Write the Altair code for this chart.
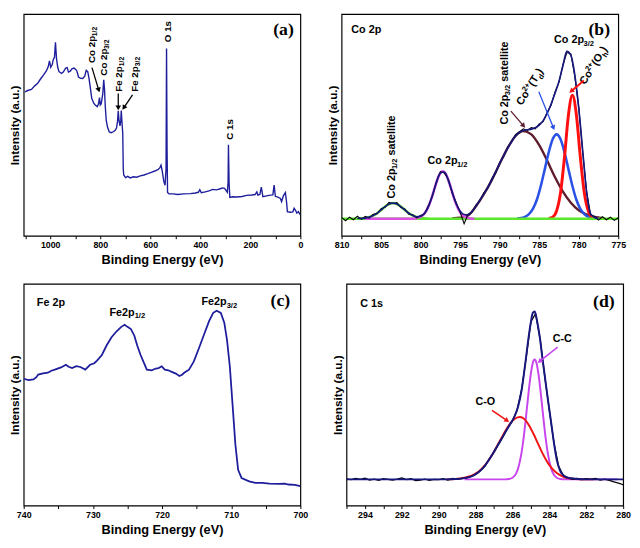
import altair as alt
import pandas as pd

# ---------------- Panel (a): survey spectrum ----------------
a_energy = [1101, 1090, 1075, 1062, 1050, 1038, 1025, 1015, 1008, 1003, 998, 992, 988, 983, 979, 975,
            970, 965, 955, 948, 938, 932, 927, 920, 913, 905, 898, 893, 887, 878, 870, 862, 856, 850,
            845, 840, 834, 826, 820, 812, 807, 803, 800, 796, 790, 786, 783, 780, 776, 771, 764, 756,
            748, 740, 735, 731, 728, 725, 721, 718, 716, 713, 710, 708, 706, 699, 690, 680, 668, 655,
            640, 625, 610, 596, 582, 570, 562, 557, 552, 546, 541, 537, 535, 533, 531, 525, 510, 490,
            466, 440, 420, 408, 402, 396, 380, 365, 350, 335, 320, 311, 303, 298, 292, 289, 287.5, 285,
            282, 270, 255, 233, 215, 195, 181, 174, 170, 162, 156, 150, 135, 120, 110, 105, 100, 90, 80,
            75, 68, 60, 55, 52, 40, 30, 25, 20, 14, 8, 2, 0]
a_intensity = [64.9, 65.5, 66.0, 67.6, 68.8, 70.8, 72.8, 74.5, 76.2, 78.9, 76.0, 77.2, 79.4, 80.5, 87.3, 80.0,
               76.0, 74.0, 73.2, 73.8, 75.6, 75.8, 73.8, 74.2, 75.3, 75.6, 75.0, 74.2, 71.6, 71.0, 70.9, 72.0, 74.6, 74.0,
               71.0, 67.0, 62.0, 59.8, 59.0, 58.2, 59.5, 62.3, 59.0, 59.6, 64.0, 70.3, 66.0, 58.5, 52.0, 49.0, 46.8, 46.5,
               46.9, 47.6, 48.6, 51.5, 56.3, 52.0, 49.5, 51.8, 56.5, 51.0, 46.0, 30.0, 27.4, 26.2, 26.8, 26.1, 26.6, 26.4,
               27.0, 27.4, 28.0, 28.6, 29.2, 29.8, 30.6, 31.8, 29.0, 24.5, 22.8, 30.0, 84.4, 40.0, 19.5, 18.9, 18.9, 18.6,
               18.9, 19.0, 19.3, 19.6, 20.8, 19.4, 19.8, 20.2, 20.9, 20.7, 21.2, 21.6, 21.4, 20.6, 19.6, 24.0, 41.0, 24.0,
               17.3, 17.6, 17.5, 17.7, 18.2, 18.4, 18.6, 19.8, 18.3, 18.6, 21.9, 17.6, 18.0, 18.3, 18.4, 22.8, 17.8, 17.4, 16.8,
               15.4, 18.0, 19.5, 15.0, 10.9, 10.6, 10.8, 12.4, 11.6, 10.2, 10.9, 9.8, 9.4]
a_ticks = [1100, 1000, 900, 800, 700, 600, 500, 400, 300, 200, 100, 0]

# ---------------- Panel (b): Co 2p ----------------
b_energy = [810.0, 809.5, 809.0, 808.5, 808.0, 807.5, 807.0, 806.5, 806.0, 805.5, 805.0, 804.5, 804.0, 803.5,
            803.0, 802.5, 802.0, 801.5, 801.0, 800.5, 800.0, 799.5, 799.0, 798.5, 798.0, 797.5, 797.0, 796.5,
            796.0, 795.5, 795.0, 794.5, 794.0, 793.5, 793.0, 792.5, 792.0, 791.5, 791.0, 790.5, 790.0, 789.5,
            789.0, 788.5, 788.0, 787.5, 787.0, 786.5, 786.0, 785.5, 785.0, 784.5, 784.0, 783.5, 783.0, 782.5,
            782.0, 781.5, 781.0, 780.5, 780.0, 779.5, 779.0, 778.5, 778.0, 777.5, 777.0, 776.5, 776.0, 775.5, 775.0]
b_raw = [0.04, -0.06, 0.05, -0.03, 0.08, -0.02, 0.07, 0.02, 0.14, 0.15,
         0.31, 0.35, 0.50, 0.46, 0.49, 0.34, 0.30, 0.14, 0.12, 0.03,
         0.10, 0.15, 0.41, 0.70, 1.14, 1.44, 1.40, 1.21, 0.78, 0.49,
         0.20, -0.15, 0.14, 0.20, 0.42, 0.55, 0.79, 0.94, 1.22, 1.41,
         1.72, 1.90, 2.19, 2.34, 2.57, 2.66, 2.75, 2.70, 2.79, 2.75,
         2.90, 2.97, 3.25, 3.47, 3.88, 4.17, 4.71, 5.08, 5.04, 4.36,
         3.42, 2.04, 0.84, 0.12, 0.07, -0.04, 0.06, -0.03, 0.05, -0.05, 0.03]
b_env_energy = [808.0, 807.5, 807.0, 806.5, 806.0, 805.5, 805.0, 804.5, 804.0, 803.5,
                803.0, 802.5, 802.0, 801.5, 801.0, 800.5, 800.0, 799.5, 799.0, 798.5,
                798.0, 797.5, 797.0, 796.5, 796.0, 795.5, 795.0, 794.5, 794.0, 793.5,
                793.0, 792.5, 792.0, 791.5, 791.0, 790.5, 790.0, 789.5, 789.0, 788.5,
                788.0, 787.5, 787.0, 786.5, 786.0, 785.5, 785.0, 784.5, 784.0, 783.5,
                783.0, 782.5, 782.0, 781.5, 781.0, 780.5, 780.0, 779.5, 779.0, 778.5, 778.0, 777.5]
b_envelope = [0.01, 0.01, 0.02, 0.05, 0.10, 0.17, 0.27, 0.37, 0.45, 0.48,
              0.45, 0.37, 0.27, 0.17, 0.10, 0.06, 0.08, 0.17, 0.38, 0.72,
              1.11, 1.40, 1.43, 1.18, 0.81, 0.46, 0.23, 0.13, 0.12, 0.22,
              0.39, 0.57, 0.76, 0.96, 1.19, 1.43, 1.69, 1.93, 2.16, 2.36,
              2.53, 2.64, 2.70, 2.72, 2.74, 2.78, 2.86, 3.00, 3.22, 3.50,
              3.84, 4.20, 4.68, 5.12, 5.00, 4.40, 3.38, 2.08, 0.80, 0.15, 0.04, 0.01]
b_base_energy = [810.0, 775.0]
b_base = [0.0, 0.0]
b_sat12_energy = [808.0, 807.5, 807.0, 806.5, 806.0, 805.5, 805.0, 804.5, 804.0, 803.5,
                  803.0, 802.5, 802.0, 801.5, 801.0, 800.5, 800.0, 799.5, 799.0]
b_sat12 = [0.00, 0.01, 0.02, 0.05, 0.10, 0.17, 0.27, 0.37, 0.45, 0.48,
           0.45, 0.37, 0.27, 0.17, 0.10, 0.05, 0.02, 0.01, 0.00]
b_p12_energy = [807.0, 801.7, 801.2, 800.7, 800.2, 799.7, 799.2, 798.7, 798.2, 797.7,
                797.2, 796.7, 796.2, 795.7, 795.2, 794.7, 794.2, 793.7, 793.2]
b_p12 = [0.0, 0.0, 0.0, 0.01, 0.04, 0.11, 0.28, 0.57, 0.96, 1.31,
         1.45, 1.31, 0.96, 0.57, 0.28, 0.11, 0.04, 0.01, 0.0]
b_sat32_energy = [796, 795, 794, 793, 792, 791, 790, 789, 788, 787, 786, 785, 784, 783, 782, 781, 780, 779, 778, 777]
b_sat32 = [0.01, 0.03, 0.10, 0.38, 0.75, 1.18, 1.68, 2.16, 2.53, 2.68, 2.58, 2.25, 1.78, 1.27, 0.83, 0.49, 0.26, 0.13, 0.06, 0.02]
b_td_energy = [787.8, 787.3, 786.8, 786.3, 785.8, 785.3, 784.8, 784.3, 783.8, 783.3, 782.8,
               782.3, 781.8, 781.3, 780.8, 780.3, 779.8, 779.3, 778.8, 778.3, 777.8]
b_td = [0.01, 0.02, 0.06, 0.14, 0.30, 0.58, 1.00, 1.51, 2.03, 2.43, 2.58,
        2.43, 2.03, 1.51, 1.00, 0.58, 0.30, 0.14, 0.06, 0.02, 0.01]
b_oh_energy = [783.8, 783.3, 782.8, 782.3, 781.8, 781.3, 780.8, 780.3, 779.8, 779.3, 778.8, 778.3, 777.8]
b_oh = [0.01, 0.05, 0.24, 0.80, 1.89, 3.18, 3.78, 3.18, 1.89, 0.80, 0.24, 0.05, 0.01]
b_ticks = [810, 807.5, 805, 802.5, 800, 797.5, 795, 792.5, 790, 787.5, 785, 782.5, 780, 777.5, 775]

# ---------------- Panel (c): Fe 2p ----------------
c_energy = [740, 739.3, 738.6, 738.2, 737.9, 737.2, 736.5, 736.0, 735.5, 734.6, 733.9, 733.5, 733.0, 732.4,
            731.8, 731.1, 730.4, 729.8, 729.4, 728.7, 728.0, 727.3, 726.6, 725.9, 725.4, 725.0, 724.5, 724.0,
            723.6, 723.1, 722.6, 722.2, 721.5, 720.9, 720.5, 720.05, 719.6, 719.1, 718.6, 718.0, 717.5, 717.1,
            716.8, 716.1, 715.4, 714.6, 713.9, 713.2, 712.6, 712.1, 711.5, 711.0, 710.6, 710.2, 709.8, 709.4,
            709.0, 708.5, 707.4, 706.5, 705.5, 704.5, 703.1, 702.3, 701.7, 700.8, 700]
c_intensity = [57.2, 56.6, 56.9, 57.8, 59.1, 59.6, 59.9, 60.8, 61.3, 62.3, 63.5, 62.6, 62.0, 62.9,
               62.5, 61.3, 63.5, 64.2, 65.4, 67.9, 72.3, 75.9, 78.5, 80.6, 81.5, 80.6, 79.6, 76.6,
               72.3, 67.9, 64.2, 61.3, 61.0, 61.8, 62.0, 62.8, 61.3, 61.0, 60.3, 59.5, 58.4, 59.0,
               59.9, 61.3, 65.0, 71.5, 77.4, 83.2, 86.9, 87.9, 86.9, 82.5, 74.5, 62.8, 45.3, 27.7,
               16.1, 12.4, 10.9, 10.2, 10.2, 9.9, 9.8, 9.9, 9.5, 9.3, 8.8]
c_ticks = [740, 735, 730, 725, 720, 715, 710, 705, 700]

# ---------------- Panel (d): C 1s ----------------
d_raw_energy = [295.0, 294.75, 294.5, 294.25, 294.0, 293.75, 293.5, 293.25, 293.0, 292.75,
                292.5, 292.25, 292.0, 291.75, 291.5, 291.25, 291.0, 290.75, 290.5, 290.25,
                290.0, 289.75, 289.5, 289.25, 289.0, 288.75, 288.5, 288.25, 288.0, 287.75,
                287.5, 287.25, 287.0, 286.75, 286.5, 286.25, 286.0, 285.75, 285.5, 285.25,
                285.0, 284.75, 284.5, 284.25, 284.0, 283.75, 283.5, 283.25, 283.0, 282.75,
                282.5, 282.25, 282.0, 281.75, 281.5, 281.25, 281.0, 280.75, 280.5, 280.25, 280.0]
d_raw = [0.02, -0.01, 0.03, 0.00, 0.04, -0.02, 0.01, -0.03, 0.02, 0.00,
         -0.02, 0.01, 0.05, -0.01, 0.02, -0.04, -0.02, 0.01, -0.03, 0.00,
         -0.01, 0.02, -0.02, 0.03, 0.00, 0.03, 0.05, 0.10, 0.16, 0.27,
         0.41, 0.66, 0.86, 1.12, 1.36, 1.63, 1.86, 2.20, 2.86, 3.90,
         5.00, 5.25, 4.45, 3.26, 2.18, 1.15, 0.42, 0.13, 0.06, 0.00,
         0.03, -0.01, 0.02, 0.00, 0.03, -0.02, 0.01, -0.03, -0.08, -0.12, -0.17]
d_env_energy = [295, 294, 293, 292, 291, 290, 289.6, 289.1, 288.6, 288.1, 287.6, 287.1, 286.85, 286.6,
                286.35, 286.1, 285.9, 285.7, 285.5, 285.3, 285.1, 285.0, 284.9, 284.8, 284.7, 284.6,
                284.5, 284.4, 284.3, 284.2, 284.1, 284.0, 283.9, 283.8, 283.7, 283.6, 283.5, 283.4,
                283.2, 283.0, 282.6, 282.0, 281.0, 280.0]
d_envelope = [0, 0, 0, 0, 0, 0, 0.0, 0.01, 0.04, 0.13, 0.36, 0.78, 1.03, 1.28,
              1.54, 1.78, 1.98, 2.30, 2.85, 3.70, 4.62, 5.00, 5.28, 5.32, 5.12, 4.80,
              4.42, 3.95, 3.50, 3.05, 2.62, 2.20, 1.78, 1.35, 0.95, 0.62, 0.40, 0.25,
              0.11, 0.05, 0.02, 0, 0, 0]
d_cc_energy = [288.6, 286.4, 286.2, 286.0, 285.8, 285.7, 285.6, 285.5, 285.4, 285.3, 285.2, 285.1, 285.0,
               284.9, 284.8, 284.7, 284.6, 284.5, 284.4, 284.3, 284.2, 284.1, 284.0, 283.9, 283.8,
               283.6, 283.4, 283.2, 280.3]
d_cc = [0, 0, 0.01, 0.05, 0.19, 0.34, 0.57, 0.88, 1.30, 1.81, 2.36, 2.91, 3.37,
        3.69, 3.80, 3.69, 3.37, 2.91, 2.36, 1.81, 1.30, 0.88, 0.57, 0.34, 0.19,
        0.05, 0.01, 0, 0]
d_co_energy = [289.6, 289.1, 288.6, 288.35, 288.1, 287.85, 287.6, 287.35, 287.1, 286.85, 286.6, 286.35,
               286.1, 285.85, 285.6, 285.35, 285.1, 284.85, 284.6, 284.35, 284.1, 283.85, 283.6, 283.35,
               283.1, 282.85, 282.6, 282.1, 281.6]
d_co = [0.0, 0.01, 0.05, 0.09, 0.15, 0.24, 0.38, 0.56, 0.78, 1.04, 1.31, 1.57,
        1.79, 1.93, 1.98, 1.91, 1.71, 1.43, 1.11, 0.80, 0.54, 0.34, 0.20, 0.11,
        0.05, 0.03, 0.01, 0.0, 0.0]
d_ticks = [295, 294, 293, 292, 291, 290, 289, 288, 287, 286, 285, 284, 283, 282, 281, 280]

# ---------------- styling / layout ----------------
SANS = "Liberation Sans"
SERIF = "Liberation Serif"
W, H = 282, 226
NAVY = "#1e1e9c"

AW = {' ': 278, '(': 333, ')': 333, '+': 584, '-': 333, '.': 278, '/': 278, 'C': 722, 'F': 611,
      'O': 778, 'T': 611, 'a': 556, 'c': 556, 'd': 611, 'e': 556, 'h': 611, 'i': 278, 'l': 278,
      'p': 611, 's': 556, 't': 333}


def tw(s, size):
    return sum(AW.get(ch, 556) for ch in s) * size / 1000.0


def make_x(domain, ticks, step):
    def f(field):
        return alt.X(f"{field}:Q", scale=alt.Scale(domain=domain, nice=False, zero=False),
                     axis=alt.Axis(title="Binding Energy (eV)", values=ticks, format="d",
                                   labelExpr=f"datum.value % {step} == 0 ? datum.label : ''",
                                   labelOverlap=False, labelFlush=False, grid=False, domain=False))
    return f


def make_y(domain):
    def f(field):
        return alt.Y(f"{field}:Q", scale=alt.Scale(domain=domain, nice=False, zero=False),
                     axis=alt.Axis(title="Intensity (a.u.)", labels=False, ticks=False,
                                   domain=False, grid=False))
    return f


def line(e, i, color, width, X, Y, interp="linear"):
    df = pd.DataFrame({"e": e, "i": i})
    return alt.Chart(df).mark_line(color=color, strokeWidth=width, interpolate=interp,
                                   clip=True).encode(x=X("e"), y=Y("i"))


def rich(parts, e, i, X, Y, size, angle=0, baseline="middle", color="black", align="left"):
    out = []
    off = 0.0
    if align == "center":
        total = sum(tw(t, size if k == "n" else size * 0.7) for t, k in parts)
        off = -total / 2
    for txt, kind in parts:
        fs = size if kind == "n" else round(size * 0.7, 1)
        dy = 0 if kind == "n" else (size * 0.32 if kind == "sub" else -size * 0.38)
        lead = len(txt) - len(txt.lstrip(" "))
        off += tw(" " * lead, fs)
        t = txt.lstrip(" ")
        df = pd.DataFrame({"e": [e], "i": [i], "t": [t]})
        out.append(alt.Chart(df).mark_text(align="left", baseline=baseline, angle=angle, dx=off, dy=dy,
                                           fontSize=fs, fontWeight="bold", font=SANS, color=color)
                   .encode(x=X("e"), y=Y("i"), text="t:N"))
        off += tw(t, fs)
    return out


def tag(txt, e, i, X, Y):
    df = pd.DataFrame({"e": [e], "i": [i], "t": [txt]})
    return alt.Chart(df).mark_text(align="center", baseline="middle", fontSize=18, fontWeight="bold",
                                   font=SERIF, color="black").encode(x=X("e"), y=Y("i"), text="t:N")


def arrow(e1, i1, e2, i2, ang, color, X, Y, width=1.3, size=32):
    df = pd.DataFrame({"e": [e1], "i": [i1], "e2": [e2], "i2": [i2]})
    r = alt.Chart(df).mark_rule(color=color, strokeWidth=width).encode(
        x=X("e"), y=Y("i"), x2="e2:Q", y2="i2:Q")
    h = alt.Chart(pd.DataFrame({"e": [e2], "i": [i2]})).mark_point(
        shape="triangle-up", filled=True, size=size, angle=ang, color=color, opacity=1, strokeWidth=0
    ).encode(x=X("e"), y=Y("i"))
    return [r, h]


# ---- panel a ----
Xa = make_x([1106, 0], a_ticks, 200)
Ya = make_y([0, 100])
la = [line(a_energy, a_intensity, NAVY, 1.4, Xa, Ya)]
la += rich([("Co 2p", "n"), ("1/2", "sub")], 833, 77.9, Xa, Ya, 10, angle=270)
la += rich([("Co 2p", "n"), ("3/2", "sub")], 783.6, 72.2, Xa, Ya, 10, angle=270)
la += rich([("Fe 2p", "n"), ("1/2", "sub")], 725.3, 64.9, Xa, Ya, 10, angle=270)
la += rich([("Fe 2p", "n"), ("3/2", "sub")], 660.5, 64.9, Xa, Ya, 10, angle=270)
la += rich([("O 1s", "n")], 528, 87.3, Xa, Ya, 10, angle=270)
la += rich([("C 1s", "n")], 281, 43.3, Xa, Ya, 10, angle=270)
la += arrow(833, 75.8, 806, 65.7, 163, "black", Xa, Ya)
la += arrow(728, 64.2, 728, 57.7, 180, "black", Xa, Ya)
la += arrow(671, 63.5, 706, 57.7, 214, "black", Xa, Ya)
la.append(tag("(a)", 67.6, 92.8, Xa, Ya))
pa = alt.layer(*la).properties(width=W, height=H)

# ---- panel b ----
Xb = make_x([810, 775], b_ticks, 5)
Yb = make_y([-0.52, 6.26])
lb = [
    line(b_sat12_energy, b_sat12, "#5ee62a", 2.6, Xb, Yb, "monotone"),
    line(b_sat32_energy, b_sat32, "#5e1c2c", 2.4, Xb, Yb, "monotone"),
    line(b_td_energy, b_td, "#2a52e6", 2.6, Xb, Yb, "monotone"),
    line(b_oh_energy, b_oh, "#ff1010", 3.0, Xb, Yb, "monotone"),
    line(b_base_energy, b_base, "#5ee62a", 2.8, Xb, Yb),
    line(b_p12_energy, b_p12, "#e04ce8", 2.6, Xb, Yb, "monotone"),
    line(b_energy, b_raw, "#000000", 1.1, Xb, Yb),
    line(b_env_energy, b_envelope, "#17177e", 1.7, Xb, Yb, "monotone"),
]
lb += rich([("Co 2p", "n")], 808.77, 5.76, Xb, Yb, 11)
lb += rich([("Co 2p", "n"), ("1/2", "sub"), (" satellite", "n")], 803.64, 0.62, Xb, Yb, 11, angle=270)
lb += rich([("Co 2p", "n"), ("1/2", "sub")], 799.13, 1.76, Xb, Yb, 11)
lb += rich([("Co 2p", "n"), ("3/2", "sub"), (" satellite", "n")], 789.36, 2.88, Xb, Yb, 11, angle=270)
lb += rich([("Co 2p", "n"), ("3/2", "sub")], 783.12, 5.46, Xb, Yb, 11)
lb += rich([("Co", "n"), ("2+", "sup"), ("(T", "n"), ("d", "sub"), (")", "n")], 787.2, 3.45, Xb, Yb, 11,
           angle=302, baseline="alphabetic")
lb += rich([("Co", "n"), ("2+", "sup"), ("(O", "n"), ("h", "sub"), (")", "n")], 779.2, 4.08, Xb, Yb, 11,
           angle=302, baseline="alphabetic")
lb += arrow(788.58, 3.29, 786.98, 2.84, 139, "#5e1c2c", Xb, Yb)
lb += arrow(785.05, 3.88, 783.2, 2.78, 158, "#2a52e6", Xb, Yb)
lb += arrow(779.35, 4.23, 780.95, 3.9, 230, "#ff1010", Xb, Yb, width=2)
lb.append(tag("(b)", 777.4, 5.78, Xb, Yb))
pb = alt.layer(*lb).properties(width=W, height=H)

# ---- panel c ----
Xc = make_x([740, 700], c_ticks, 10)
Yc = make_y([0, 100])
lc = [line(c_energy, c_intensity, NAVY, 1.8, Xc, Yc)]
lc += rich([("Fe 2p", "n")], 738.1, 91.2, Xc, Yc, 11)
lc += rich([("Fe2p", "n"), ("1/2", "sub")], 727.6, 86.9, Xc, Yc, 11)
lc += rich([("Fe2p", "n"), ("3/2", "sub")], 714.3, 91.7, Xc, Yc, 11)
lc.append(tag("(c)", 702.9, 92.0, Xc, Yc))
pc = alt.layer(*lc).properties(width=W, height=H)

# ---- panel d ----
Xd = make_x([295, 280], d_ticks, 2)
Yd = make_y([-0.83, 6.2])
ld = [
    line(d_cc_energy, d_cc, "#c845ee", 2.0, Xd, Yd, "monotone"),
    line(d_co_energy, d_co, "#f01515", 2.0, Xd, Yd, "monotone"),
    line(d_raw_energy, d_raw, "#000000", 1.3, Xd, Yd),
    line(d_env_energy, d_envelope, "#17177e", 2.0, Xd, Yd, "monotone"),
]
ld += rich([("C 1s", "n")], 294.26, 5.57, Xd, Yd, 11)
ld += rich([("C-C", "n")], 283.3, 4.44, Xd, Yd, 11, align="center")
ld += rich([("C-O", "n")], 287.47, 2.45, Xd, Yd, 11, align="center")
ld += arrow(283.55, 4.19, 284.53, 3.74, 231, "#c845ee", Xd, Yd, width=1.6)
ld += arrow(287.11, 2.19, 286.29, 1.86, 125, "#f01515", Xd, Yd, width=1.6)
ld.append(tag("(d)", 281.05, 5.62, Xd, Yd))
pd_ = alt.layer(*ld).properties(width=W, height=H)

chart = alt.vconcat(
    alt.hconcat(pa, pb, spacing=22),
    alt.hconcat(pc, pd_, spacing=22),
    spacing=16,
).properties(
    padding={"left": 0, "top": 0, "right": 0, "bottom": 0}
).configure_axis(
    labelFont=SANS, labelFontSize=9, labelFontWeight="bold", labelColor="black", labelPadding=2,
    titleFont=SANS, titleFontSize=13, titleFontWeight="bold", titleColor="black", titlePadding=4,
    tickColor="black", tickSize=3, tickWidth=1,
).configure_axisY(
    titleFontSize=12, titlePadding=2,
).configure_view(
    stroke="black", strokeWidth=1.2,
)

chart.save("out.html", embed_options={"renderer": "svg", "actions": False})
